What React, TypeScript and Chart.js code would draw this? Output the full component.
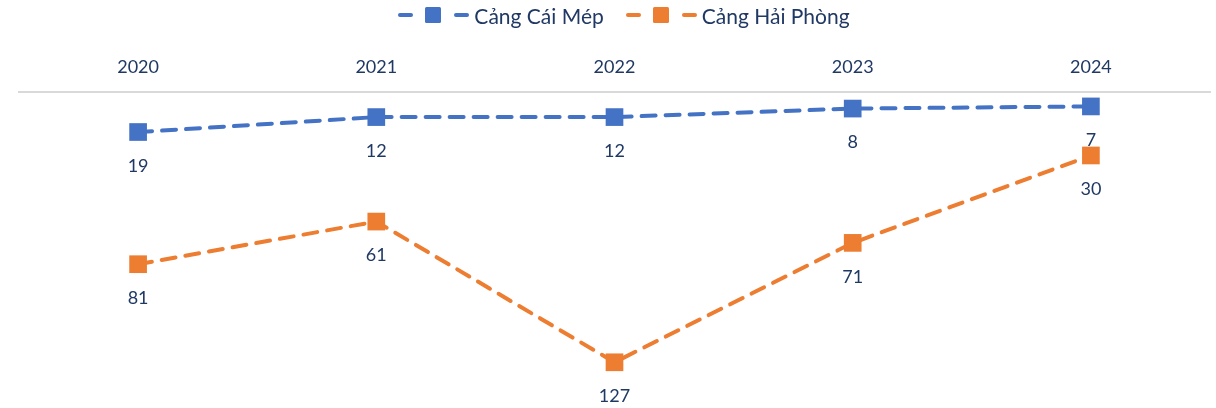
import React, { useEffect, useRef } from "react";
import { Chart, registerables } from "chart.js";

Chart.register(...registerables);

const categories = ["2020", "2021", "2022", "2023", "2024"];
const caiMep = [19, 12, 12, 8, 7];
const haiPhong = [81, 61, 127, 71, 30];
const seriesNames = ["Cảng Cái Mép", "Cảng Hải Phòng"];

const BLUE = "#4472C4";
const ORANGE = "#ED7D31";
const TEXT = "#1F3864";
const FONT = "Lato, 'Noto Sans', sans-serif";

const labelPlugin = {
  id: "pointLabels",
  afterDatasetsDraw(chart: any) {
    const ctx = chart.ctx;
    ctx.save();
    ctx.font = `18px ${FONT}`;
    ctx.fillStyle = TEXT;
    ctx.textAlign = "center";
    ctx.textBaseline = "middle";
    chart.data.datasets.forEach((ds: any, i: number) => {
      const meta = chart.getDatasetMeta(i);
      meta.data.forEach((pt: any, j: number) => {
        ctx.fillText(String(ds.data[j]), pt.x, pt.y + 34);
      });
    });
    ctx.restore();
  },
};

function LegendIcon({ color }: { color: string }) {
  return (
    <svg width="72" height="18" style={{ display: "block" }}>
      <rect x="0" y="7" width="15" height="4" rx="2" fill={color} />
      <rect x="27" y="1" width="16" height="16" rx="1.5" fill={color} />
      <rect x="56" y="7" width="15" height="4" rx="2" fill={color} />
    </svg>
  );
}

export default function App() {
  const ref = useRef<HTMLCanvasElement>(null);
  useEffect(() => {
    const chart = new Chart(ref.current!, {
      type: "line",
      data: {
        labels: categories,
        datasets: [
          {
            label: seriesNames[0],
            data: caiMep,
            borderColor: BLUE,
            backgroundColor: BLUE,
            borderWidth: 4,
            borderDash: [14, 10],
            borderCapStyle: "round",
            pointStyle: "rect",
            pointRadius: 12.5,
            pointBorderWidth: 0,
            pointBackgroundColor: BLUE,
            tension: 0,
            clip: false,
          },
          {
            label: seriesNames[1],
            data: haiPhong,
            borderColor: ORANGE,
            backgroundColor: ORANGE,
            borderWidth: 4,
            borderDash: [14, 10],
            borderCapStyle: "round",
            pointStyle: "rect",
            pointRadius: 12.5,
            pointBorderWidth: 0,
            pointBackgroundColor: ORANGE,
            tension: 0,
            clip: false,
          },
        ],
      },
      options: {
        animation: false,
        responsive: false,
        maintainAspectRatio: false,
        layout: { autoPadding: false, padding: { top: 51.5, left: 19, right: 6, bottom: 18 } },
        plugins: { legend: { display: false }, tooltip: { enabled: false } },
        scales: {
          x: {
            type: "category",
            position: "top",
            offset: true,
            grid: { display: false, drawTicks: false },
            border: { display: true, color: "#D9D9D9", width: 2 },
            ticks: { color: TEXT, font: { size: 18, family: FONT }, padding: 14 },
            afterFit: (scale: any) => {
              scale.height = 40;
              scale.paddingLeft = 0;
              scale.paddingRight = 0;
              scale.paddingTop = 0;
              scale.paddingBottom = 0;
            },
          },
          y: {
            display: false,
            reverse: true,
            min: 0,
            max: 140,
            afterFit: (scale: any) => {
              scale.width = 0;
              scale.paddingTop = 0;
              scale.paddingBottom = 0;
            },
          },
        },
      },
      plugins: [labelPlugin],
    });
    return () => chart.destroy();
  }, []);

  const items = [
    { name: seriesNames[0], color: BLUE },
    { name: seriesNames[1], color: ORANGE },
  ];

  return (
    <div style={{ position: "absolute", left: 0, top: 0, width: 1216, height: 408, background: "#fff" }}>
      <canvas ref={ref} width={1216} height={408} style={{ position: "absolute", left: 0, top: 0 }} />
      <div
        style={{
          position: "absolute",
          top: 3,
          left: 0,
          width: 1216,
          display: "flex",
          justifyContent: "center",
          gap: 22,
          fontFamily: FONT,
          fontSize: 21,
          color: TEXT,
          paddingLeft: 32,
          boxSizing: "border-box",
        }}
      >
        {items.map((it) => (
          <div key={it.name} style={{ display: "flex", alignItems: "center", gap: 4, height: 24 }}>
            <LegendIcon color={it.color} />
            <span>{it.name}</span>
          </div>
        ))}
      </div>
    </div>
  );
}
